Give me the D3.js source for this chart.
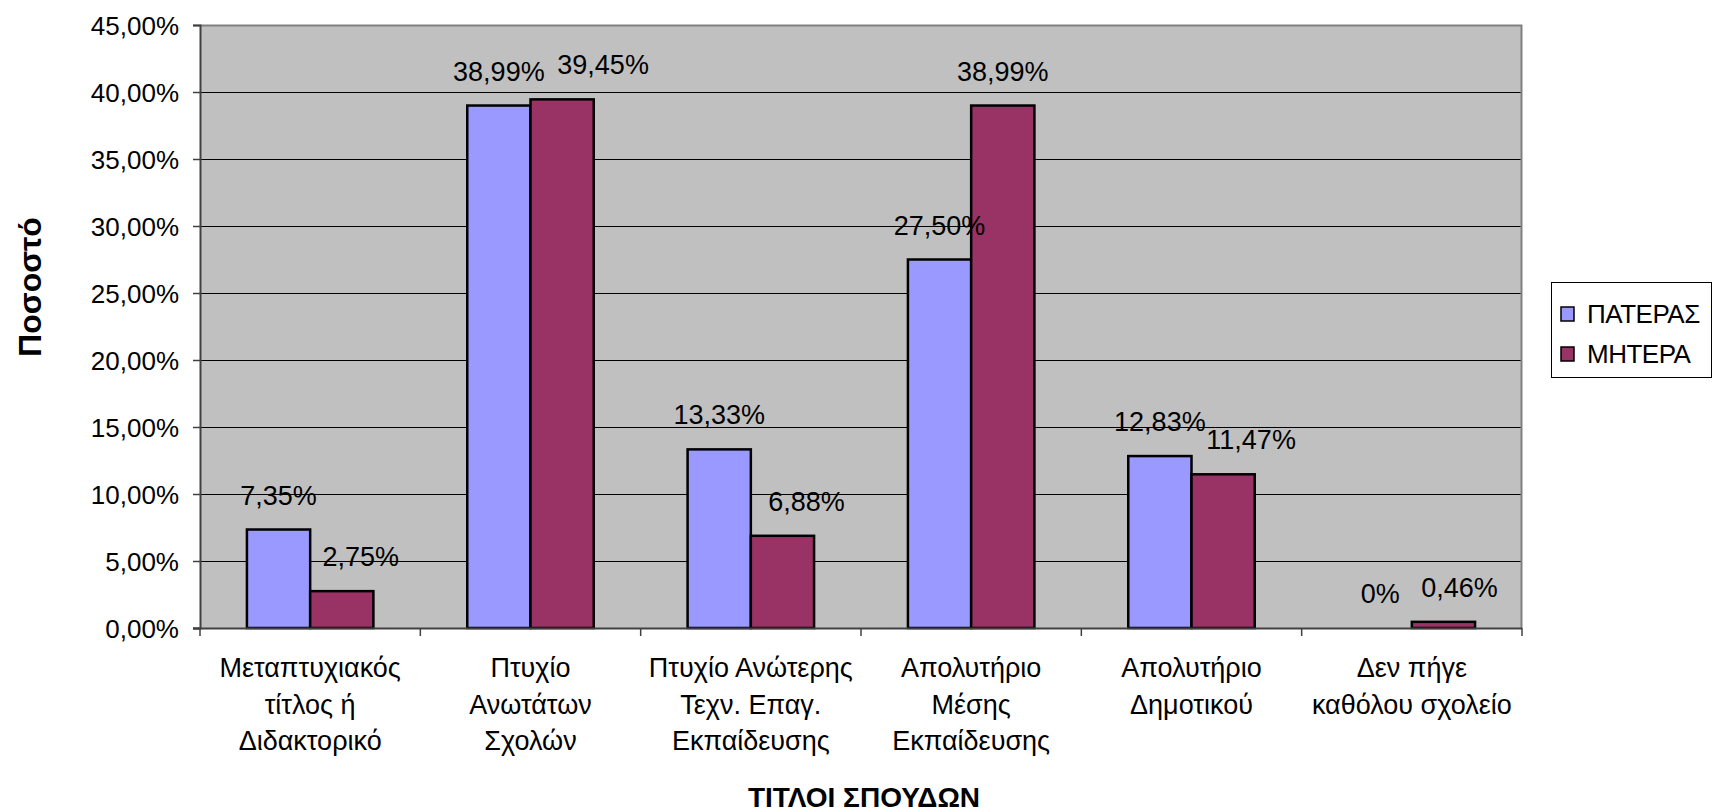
<!DOCTYPE html>
<html>
<head>
<meta charset="utf-8">
<script src="https://cdn.jsdelivr.net/npm/d3@7"></script>
<style>
  html, body { margin: 0; padding: 0; background: #ffffff; }
  svg { display: block; font-family: "Liberation Sans", Arial, sans-serif; }
</style>
</head>
<body>
<script>
// ---- data ----
const categories = [
  ["Μεταπτυχιακός", "τίτλος ή", "Διδακτορικό"],
  ["Πτυχίο", "Ανωτάτων", "Σχολών"],
  ["Πτυχίο Ανώτερης", "Τεχν. Επαγ.", "Εκπαίδευσης"],
  ["Απολυτήριο", "Μέσης", "Εκπαίδευσης"],
  ["Απολυτήριο", "Δημοτικού"],
  ["Δεν πήγε", "καθόλου σχολείο"]
];
const seriesNames = ["ΠΑΤΕΡΑΣ", "ΜΗΤΕΡΑ"];
const fatherValues = [7.35, 38.99, 13.33, 27.50, 12.83, 0];
const motherValues = [2.75, 39.45, 6.88, 38.99, 11.47, 0.46];
const yTicks = [0, 5, 10, 15, 20, 25, 30, 35, 40, 45];
const xTitle = "ΤΙΤΛΟΙ ΣΠΟΥΔΩΝ";
const yTitle = "Ποσοστό";

// ---- layout ----
const W = 1713, H = 812;
const plot = { left: 200, right: 1522, top: 25, bottom: 628 };
const colors = ["#9999FF", "#993366"];
// manual horizontal nudges of the mother's data labels (as in the original)
const motherLabelNudge = [19, 41, 24, 0, 28, 16];

const svg = d3.select("body").append("svg").attr("width", W).attr("height", H);

const x0 = d3.scaleBand().domain(d3.range(categories.length))
  .range([plot.left, plot.right]).paddingInner(0).paddingOuter(0);
const innerPad = 0.213; // fraction of band on each side
const x1 = d3.scaleBand().domain([0, 1])
  .range([x0.bandwidth() * innerPad, x0.bandwidth() * (1 - innerPad)]).padding(0);
const y = d3.scaleLinear().domain([0, 45]).range([plot.bottom, plot.top]);

const loc = d3.formatLocale({ decimal: ",", thousands: ".", grouping: [3], currency: ["", "€"] });
const fmt2 = loc.format(".2f");
const tickFmt = v => fmt2(v) + "%";
const labelFmt = v => v === 0 ? "0%" : fmt2(v) + "%";

// plot background
svg.append("rect").attr("x", plot.left).attr("y", plot.top)
  .attr("width", plot.right - plot.left).attr("height", plot.bottom - plot.top)
  .attr("fill", "#C0C0C0");

// gridlines
svg.append("g").selectAll("line").data(yTicks.filter(t => t > 0)).join("line")
  .attr("x1", plot.left).attr("x2", plot.right)
  .attr("y1", d => Math.round(y(d)) + 0.5).attr("y2", d => Math.round(y(d)) + 0.5)
  .attr("stroke", "#000").attr("stroke-width", 1);

// plot border (right and top)
svg.append("path")
  .attr("d", `M${plot.left},${plot.top + 0.5}H${plot.right - 0.5}V${plot.bottom}`)
  .attr("fill", "none").attr("stroke", "#808080").attr("stroke-width", 2);

// bars
const data = [fatherValues, motherValues];
const groups = svg.append("g").selectAll("g").data(categories).join("g")
  .attr("transform", (d, i) => `translate(${x0(i)},0)`);
groups.selectAll("rect").data((d, i) => data.map((s, k) => ({ k, v: s[i] }))).join("rect")
  .filter(d => d.v > 0)
  .attr("x", d => x1(d.k))
  .attr("y", d => y(d.v))
  .attr("width", x1.bandwidth())
  .attr("height", d => y(0) - y(d.v))
  .attr("fill", d => colors[d.k])
  .attr("stroke", "#000").attr("stroke-width", 2.5);

// data labels
groups.selectAll("text").data((d, i) => data.map((s, k) => ({ k, v: s[i], i }))).join("text")
  .attr("x", d => x1(d.k) + x1.bandwidth() / 2 + (d.k === 1 ? motherLabelNudge[d.i] : 0))
  .attr("y", d => y(d.v) - 25)
  .attr("text-anchor", "middle")
  .attr("font-size", 27).attr("fill", "#000")
  .text(d => labelFmt(d.v));

// y axis
const yAxis = d3.axisLeft(y).tickValues(yTicks).tickFormat(tickFmt).tickSize(7).tickPadding(14);
const gy = svg.append("g").attr("transform", `translate(${plot.left},0)`).call(yAxis);
gy.select(".domain").attr("stroke", "#404040").attr("stroke-width", 2);
gy.selectAll(".tick line").attr("stroke", "#404040").attr("stroke-width", 1.5);
gy.selectAll(".tick text").attr("font-size", 26).attr("fill", "#000")
  .attr("font-family", "'Liberation Sans', Arial, sans-serif").attr("dy", "0.35em");

// x axis
const xAxisLine = svg.append("g");
xAxisLine.append("line").attr("x1", plot.left - 7).attr("x2", plot.right)
  .attr("y1", plot.bottom + 0.5).attr("y2", plot.bottom + 0.5)
  .attr("stroke", "#404040").attr("stroke-width", 2);
xAxisLine.selectAll("line.t").data(d3.range(categories.length + 1)).join("line")
  .attr("class", "t")
  .attr("x1", i => i < categories.length ? x0(i) : plot.right)
  .attr("x2", i => i < categories.length ? x0(i) : plot.right)
  .attr("y1", plot.bottom).attr("y2", plot.bottom + 8)
  .attr("stroke", "#404040").attr("stroke-width", 1.5);

// category labels
const catG = svg.append("g").selectAll("text").data(categories).join("text")
  .attr("text-anchor", "middle").attr("font-size", 27).attr("fill", "#000");
catG.each(function (lines, i) {
  d3.select(this).selectAll("tspan").data(lines).join("tspan")
    .attr("x", x0(i) + x0.bandwidth() / 2)
    .attr("y", (l, j) => plot.bottom + 49 + j * 36.5)
    .text(l => l);
});

// axis titles
svg.append("text").attr("x", 864).attr("y", 807).attr("text-anchor", "middle")
  .attr("font-size", 28).attr("font-weight", "bold").text(xTitle);
svg.append("text").attr("transform", "translate(41,287) rotate(-90)")
  .attr("text-anchor", "middle").attr("font-size", 32).attr("font-weight", "bold").text(yTitle);

// legend
const lg = svg.append("g");
lg.append("rect").attr("x", 1551.5).attr("y", 282.5).attr("width", 160).attr("height", 95)
  .attr("fill", "#fff").attr("stroke", "#000").attr("stroke-width", 1);
seriesNames.forEach((name, k) => {
  const cy = 315 + k * 40;
  lg.append("rect").attr("x", 1561).attr("y", cy - 8).attr("width", 13).attr("height", 14)
    .attr("fill", colors[k]).attr("stroke", "#000").attr("stroke-width", 1.5);
  lg.append("text").attr("x", 1587).attr("y", cy + 8).attr("font-size", 26)
    .attr("letter-spacing", -0.5).text(name);
});
</script>
</body>
</html>
